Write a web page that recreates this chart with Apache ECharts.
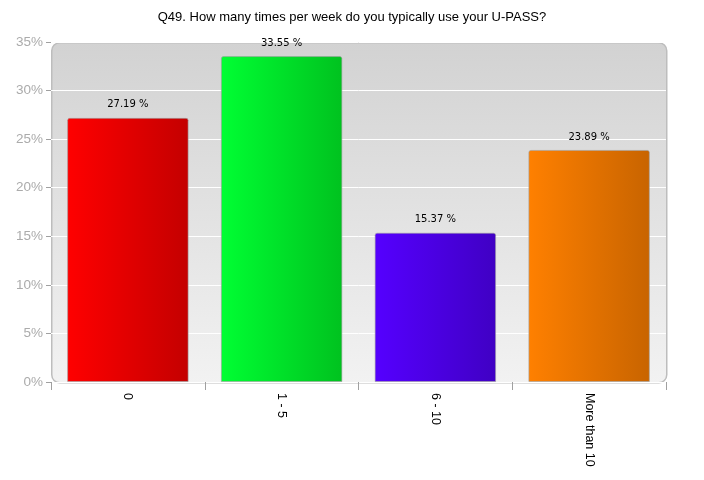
<!DOCTYPE html>
<html>
<head>
<meta charset="utf-8">
<script src="https://cdn.jsdelivr.net/npm/echarts@6/dist/echarts.min.js"></script>
<style>
  html, body { margin: 0; padding: 0; background: #fff; }
  #chart { width: 704px; height: 480px; }
</style>
</head>
<body>
<div id="chart"></div>
<script>
var categories = ['0', '1 - 5', '6 - 10', 'More than 10']
var values = [27.19, 33.55, 15.37, 23.89]
var barColors = [
  ['#ff0000', '#c40000'],
  ['#00ff33', '#00c21f'],
  ['#5500ff', '#4000c4'],
  ['#ff8000', '#c86400']
]

var gridLeft = 51
var gridRight = 38
var gridTop = 42
var gridBottom = 98

var chart = echarts.init(document.getElementById('chart'))

var data = values.map(function (v, i) {
  return {
    value: v,
    itemStyle: {
      color: new echarts.graphic.LinearGradient(0, 0, 1, 0, [
        { offset: 0, color: barColors[i][0] },
        { offset: 1, color: barColors[i][1] }
      ])
    }
  }
})

chart.setOption({
  animation: false,
  title: {
    text: 'Q49. How many times per week do you typically use your U-PASS?',
    left: 'center',
    top: 6,
    textStyle: {
      fontFamily: 'Liberation Sans',
      fontSize: 13,
      fontWeight: 'normal',
      color: '#000'
    }
  },
  graphic: [{
    type: 'rect',
    z: -1,
    left: gridLeft,
    top: gridTop,
    shape: { width: 704 - gridLeft - gridRight, height: 480 - gridTop - gridBottom, r: 8 },
    style: {
      fill: new echarts.graphic.LinearGradient(0, 0, 0, 1, [
        { offset: 0, color: '#d2d2d2' },
        { offset: 1, color: '#f2f2f2' }
      ]),
      stroke: '#bdbdbd',
      lineWidth: 1.5
    }
  }],
  grid: {
    left: gridLeft,
    right: gridRight,
    top: gridTop,
    bottom: gridBottom,
    containLabel: false
  },
  xAxis: {
    type: 'category',
    data: categories,
    axisLine: { show: false },
    axisTick: { show: true, length: 8, lineStyle: { color: '#a0a0a0' } },
    axisLabel: {
      rotate: -90,
      margin: 11,
      fontFamily: 'Liberation Sans',
      fontSize: 12.5,
      color: '#000'
    }
  },
  yAxis: {
    type: 'value',
    min: 0,
    max: 35,
    interval: 5,
    axisLine: { show: false },
    axisTick: { show: true, inside: false, length: 5, lineStyle: { color: '#a0a0a0' } },
    axisLabel: {
      formatter: '{value}%',
      margin: 8,
      fontFamily: 'Liberation Sans',
      fontSize: 13.5,
      color: '#ababab'
    },
    splitLine: { show: true, lineStyle: { color: '#ffffff', width: 1 } }
  },
  series: [{
    type: 'bar',
    data: data,
    barWidth: '79%',
    itemStyle: {
      borderColor: 'rgba(160,160,160,0.6)',
      borderWidth: 1,
      borderRadius: [2, 2, 0, 0]
    },
    label: {
      show: true,
      position: 'top',
      distance: 8,
      formatter: function (p) { return p.value.toFixed(2) + ' %' },
      fontFamily: 'DejaVu Sans',
      fontSize: 10,
      color: '#000'
    }
  }]
})
</script>
</body>
</html>
